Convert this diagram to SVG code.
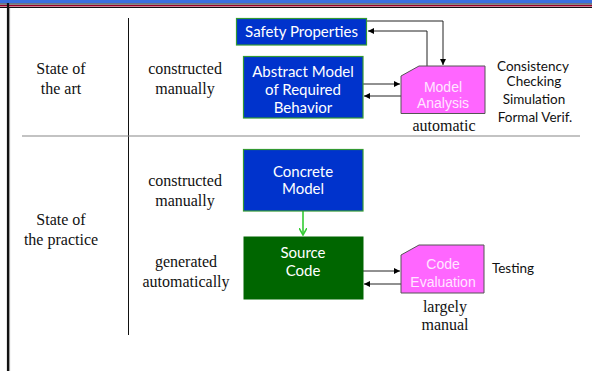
<svg xmlns="http://www.w3.org/2000/svg" width="592" height="371" viewBox="0 0 592 371">
  <defs>
    <marker id="ah" viewBox="0 0 6 6" refX="6" refY="3" markerWidth="6" markerHeight="6" markerUnits="userSpaceOnUse" orient="auto">
      <path d="M0,0 L6,3 L0,6 Z" fill="#000"/>
    </marker>
    <marker id="ahg" viewBox="0 0 8 8" refX="7" refY="4" markerWidth="8" markerHeight="8" markerUnits="userSpaceOnUse" orient="auto">
      <path d="M0,0 L7,4 L0,8" fill="none" stroke="#33cc33" stroke-width="1.6"/>
    </marker>
    <style>
      .serif { font-family: "Liberation Serif", "Times New Roman", serif; font-size: 16px; fill: #111; text-anchor: middle; }
      .sans { font-family: Lato, "Open Sans", sans-serif; font-size: 13.5px; fill: #111; text-anchor: middle; }
      .node-txt { font-family: Lato, "Open Sans", sans-serif; font-size: 15px; fill: #fff; text-anchor: middle; }
      .pink-txt { font-family: "Liberation Sans", Arial, sans-serif; font-size: 14px; fill: #ffe6ff; text-anchor: middle; }
      .blue { fill: #0033cc; stroke: #339933; stroke-width: 1.2; }
      .green { fill: #006600; stroke: #006600; stroke-width: 1; }
      .pink { fill: #ff66ff; stroke: #555; stroke-width: 1; }
      .conn { stroke: #222; stroke-width: 1; fill: none; }
    </style>
  </defs>

  <rect width="592" height="371" fill="#fff"/>

  <!-- frame: title bar and left border -->
  <rect x="0" y="0" width="592" height="3.3" fill="#3a6fe0"/>
  <line x1="0" y1="4" x2="592" y2="4" stroke="#111" stroke-width="1"/>
  <line x1="0" y1="5.8" x2="592" y2="5.8" stroke="#99002b" stroke-width="1.4"/>
  <line x1="0" y1="7.5" x2="592" y2="7.5" stroke="#111" stroke-width="1"/>
  <line x1="8" y1="3" x2="8" y2="371" stroke="#111" stroke-width="2.2"/>
  <line x1="9.6" y1="8" x2="9.6" y2="371" stroke="#999" stroke-width="1"/>

  <!-- table rules -->
  <line x1="128.5" y1="18" x2="128.5" y2="335" stroke="#111" stroke-width="1"/>
  <line x1="22" y1="136" x2="580" y2="136" stroke="#888" stroke-width="1.2"/>

  <!-- row labels -->
  <g id="labels">
    <text class="serif" x="61" y="74">State of</text>
    <text class="serif" x="61" y="94">the art</text>
    <text class="serif" x="185" y="74">constructed</text>
    <text class="serif" x="185" y="94">manually</text>
    <text class="serif" x="61" y="225">State of</text>
    <text class="serif" x="61" y="245">the practice</text>
    <text class="serif" x="185" y="186">constructed</text>
    <text class="serif" x="185" y="206">manually</text>
    <text class="serif" x="186" y="267">generated</text>
    <text class="serif" x="186" y="287">automatically</text>
    <text class="serif" x="444" y="131">automatic</text>
    <text class="serif" x="445" y="312">largely</text>
    <text class="serif" x="445" y="330">manual</text>
    <text class="sans" x="533" y="71">Consistency</text>
    <text class="sans" x="534" y="86">Checking</text>
    <text class="sans" x="534" y="104">Simulation</text>
    <text class="sans" x="535" y="122">Formal Verif.</text>
    <text class="sans" x="513" y="273">Testing</text>
  </g>

  <!-- connectors -->
  <g id="connectors">
    <polyline class="conn" points="367,21 443,21 443,65" marker-end="url(#ah)"/>
    <polyline class="conn" points="427,66 427,31 368,31" marker-end="url(#ah)"/>
    <line class="conn" x1="363" y1="84" x2="400" y2="84" marker-end="url(#ah)"/>
    <line class="conn" x1="401" y1="96" x2="364" y2="96" marker-end="url(#ah)"/>
    <line x1="303" y1="211" x2="303" y2="235" stroke="#33cc33" stroke-width="1.6" marker-end="url(#ahg)"/>
    <line class="conn" x1="363" y1="271" x2="400" y2="271" marker-end="url(#ah)"/>
    <line class="conn" x1="401" y1="284" x2="364" y2="284" marker-end="url(#ah)"/>
  </g>

  <!-- nodes -->
  <g id="safety-properties">
    <rect class="blue" x="236.5" y="18.5" width="130" height="26.5"/>
    <text class="node-txt" x="301.5" y="37">Safety Properties</text>
  </g>

  <g id="abstract-model">
    <rect class="blue" x="243.5" y="56.5" width="119.5" height="61.5"/>
    <text class="node-txt" x="303" y="77">Abstract Model</text>
    <text class="node-txt" x="303" y="95">of Required</text>
    <text class="node-txt" x="303" y="113">Behavior</text>
  </g>

  <g id="model-analysis">
    <path class="pink" d="M401,76 L419,66 L485,66 L485,113.5 L401,113.5 Z"/>
    <text class="pink-txt" x="443" y="92">Model</text>
    <text class="pink-txt" x="443" y="108">Analysis</text>
  </g>

  <g id="concrete-model">
    <rect class="blue" x="243.5" y="149.5" width="119.5" height="61.5"/>
    <text class="node-txt" x="303" y="177">Concrete</text>
    <text class="node-txt" x="303" y="194">Model</text>
  </g>

  <g id="source-code">
    <rect class="green" x="244" y="237" width="119" height="62"/>
    <text class="node-txt" x="303" y="258">Source</text>
    <text class="node-txt" x="303" y="276">Code</text>
  </g>

  <g id="code-evaluation">
    <path class="pink" d="M401,255 L419,245 L484,245 L484,293 L401,293 Z"/>
    <text class="pink-txt" x="443" y="269">Code</text>
    <text class="pink-txt" x="443" y="287">Evaluation</text>
  </g>
</svg>
